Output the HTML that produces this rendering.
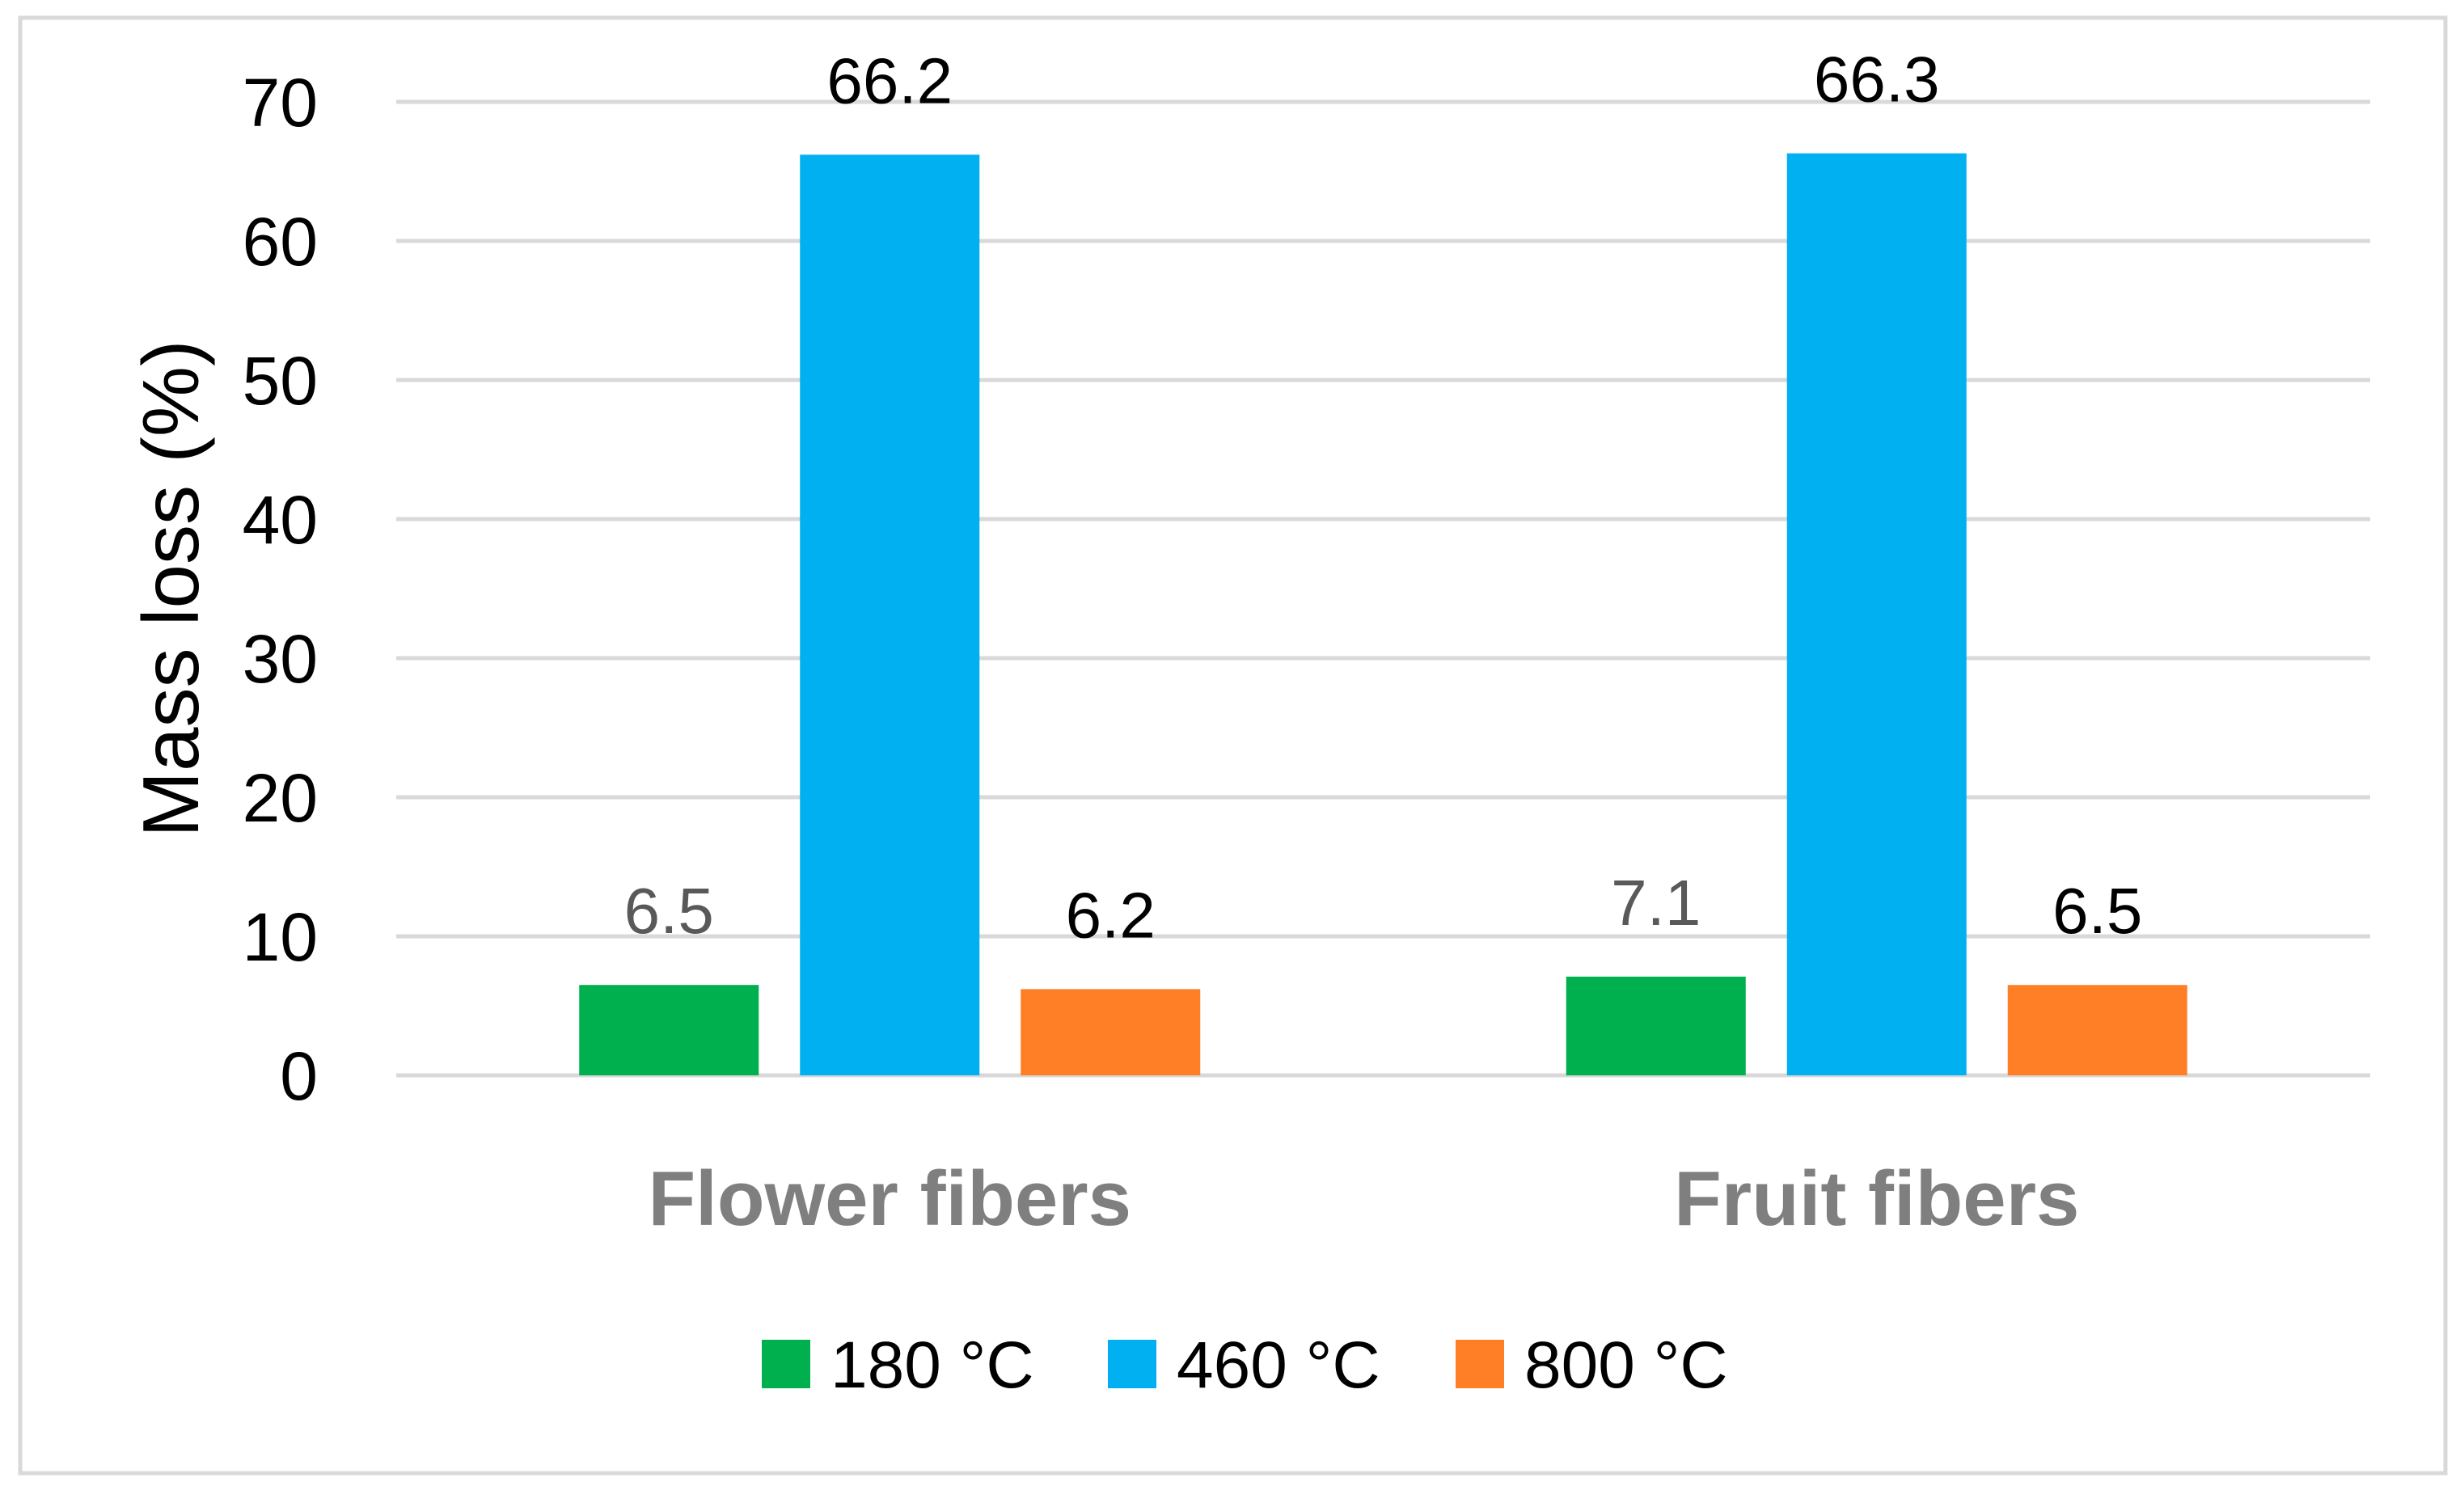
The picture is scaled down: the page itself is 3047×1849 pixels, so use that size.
<!DOCTYPE html>
<html><head><meta charset="utf-8"><style>
html,body{margin:0;padding:0;background:#fff}
svg{display:block;font-family:"Liberation Sans",sans-serif}
</style></head><body>
<svg id="chart" width="3047" height="1849" viewBox="0 0 3047 1849">
<rect x="25" y="22" width="2999" height="1800" fill="#fff" stroke="#d9d9d9" stroke-width="5"/>
<g id="grid"></g><g id="ylabels"></g><g id="bars"></g><g id="vlabels"></g><g id="xlabels"></g>
<text x="0" y="0" transform="translate(245,728) rotate(-90)" text-anchor="middle" font-size="98" fill="#000">Mass loss (%)</text>
<g id="legend"></g>
</svg>
<script>
const categories = ["Flower fibers", "Fruit fibers"];
const seriesNames = ["180 °C", "460 °C", "800 °C"];
const s180 = [6.5, 7.1];
const s460 = [66.2, 66.3];
const s800 = [6.2, 6.5];
const yTicks = [0, 10, 20, 30, 40, 50, 60, 70];
const colors = ["#00b04f", "#00b0f0", "#ff7f27"];
const labelColors = ["#595959", "#000", "#000"];
const series = [s180, s460, s800];
const NS = "http://www.w3.org/2000/svg";
const plotL = 490, plotR = 2931, y0 = 1330, yTop = 126, yMax = 70;
const y = v => y0 - (v / yMax) * (y0 - yTop);
const catW = (plotR - plotL) / categories.length;
const cx = i => plotL + catW * (i + 0.5);
const barW = 222, step = 273;
function mk(tag, attrs, parent) { const e = document.createElementNS(NS, tag); for (const k in attrs) e.setAttribute(k, attrs[k]); parent.appendChild(e); return e; }
const g = document.getElementById('grid'), yl = document.getElementById('ylabels');
yTicks.forEach(t => {
  const l = mk('line', {x1: plotL, x2: plotR, y1: y(t), y2: y(t), stroke: '#d9d9d9', 'stroke-width': 5}, g);
  
  
  const tx = mk('text', {x: 393, y: y(t) + 30, 'text-anchor': 'end', 'font-size': 84, fill: '#000'}, yl);
  tx.textContent = t;
  
  
});
const bg = document.getElementById('bars'), vl = document.getElementById('vlabels'), xl = document.getElementById('xlabels');
categories.forEach((c, i) => {
  series.forEach((s, j) => {
    const xc = cx(i) + (j - 1) * step;
    const r = mk('rect', {x: xc - barW / 2, y: y(s[i]), width: barW, height: y0 - y(s[i]), fill: colors[j]}, bg);
    
    
    const t = mk('text', {x: xc, y: y(s[i]) - 64, 'text-anchor': 'middle', 'font-size': 80, fill: labelColors[j]}, vl);
    t.textContent = s[i].toFixed(1);
    
    
  });
  const ct = mk('text', {x: cx(i), y: 1515, 'text-anchor': 'middle', 'font-size': 96, 'font-weight': 'bold', fill: '#7f7f7f'}, xl);
  ct.textContent = c;
  
  
});
const lg = document.getElementById('legend');
const lx = [942, 1370, 1800];
seriesNames.forEach((n, j) => {
  const r = mk('rect', {x: lx[j], y: 1657, width: 60, height: 60, fill: colors[j]}, lg);
  
  
  const t = mk('text', {x: lx[j] + 85, y: 1716, 'font-size': 82, fill: '#000'}, lg);
  t.textContent = n;
  
  
});
</script>
</body></html>
